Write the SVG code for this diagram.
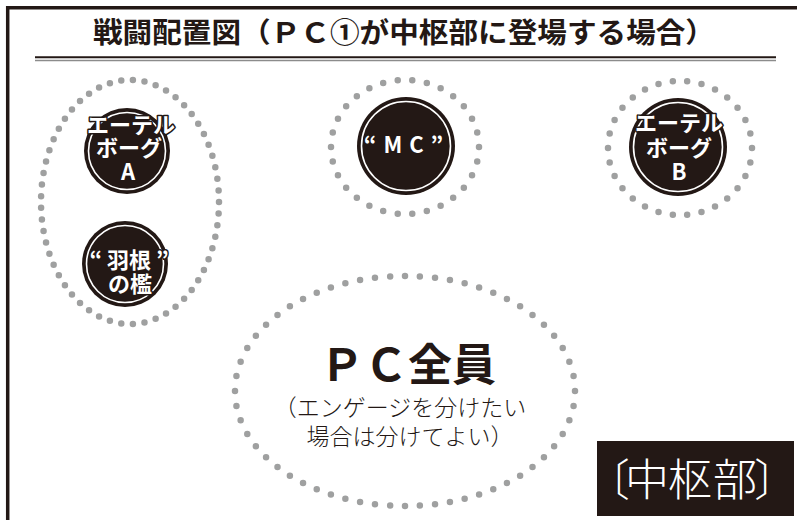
<svg xmlns="http://www.w3.org/2000/svg" width="797" height="520" viewBox="0 0 797 520">
<defs>
<style>
.frame{fill:none;stroke:#231815;stroke-width:3.5}
.dots{fill:none;stroke:#9fa0a0;stroke-width:6.5;stroke-linecap:round;stroke-dasharray:0 1}
.disc{fill:#231815}
.ring{fill:none;stroke:#fff;stroke-width:1.6}
.lbl{font-family:"Noto Sans CJK JP","Noto Sans",sans-serif;font-weight:bold;font-size:22px;fill:#fff;stroke:#231815;stroke-width:3;paint-order:stroke;stroke-linejoin:round;text-anchor:middle}
.title{font-family:"Noto Sans CJK JP",sans-serif;font-weight:bold;font-size:28px;fill:#231815}
.big{font-family:"Noto Sans CJK JP",sans-serif;font-weight:bold;font-size:44px;fill:#231815;text-anchor:middle}
.sub{font-family:"Noto Sans CJK JP",sans-serif;font-weight:300;font-size:23px;fill:#231815;text-anchor:middle}
.zone{font-family:"Noto Sans CJK JP",sans-serif;font-weight:300;font-size:44px;fill:#fff}
</style>
</defs>
<rect width="797" height="520" fill="#fff"/>
<path class="frame" d="M7.7 520V7.7H797"/>
<g id="title">
<text class="title" x="93" y="43" textLength="622" lengthAdjust="spacingAndGlyphs">戦闘配置図（ＰＣ①が中枢部に登場する場合）</text>
<line x1="35" y1="57.3" x2="776" y2="57.3" stroke="#231815" stroke-width="2"/>
<line x1="35" y1="60.6" x2="776" y2="60.6" stroke="#8c8c8c" stroke-width="1.5"/>
</g>
<g id="connectors"></g>
<g id="zone-left">
<ellipse class="dots" cx="130" cy="202" rx="89" ry="122" pathLength="57"/>
</g>
<g id="node-aetherborg-a">
<circle class="disc" cx="127" cy="151" r="43"/>
<circle class="ring" cx="127" cy="151" r="38.5"/>
<text class="lbl"><tspan x="131" y="133">エーテル</tspan><tspan x="129" y="156">ボーグ</tspan><tspan x="128" y="180">A</tspan></text>
</g>
<g id="node-hane">
<circle class="disc" cx="125" cy="264" r="43"/>
<circle class="ring" cx="125" cy="264" r="38.5"/>
<text class="lbl"><tspan x="129" y="268">“ 羽根 ”</tspan><tspan x="130" y="292">の檻</tspan></text>
</g>
<g id="node-mc">
<ellipse class="dots" cx="405" cy="147" rx="74" ry="67" pathLength="30"/>
<circle class="disc" cx="406" cy="146" r="49"/>
<circle class="ring" cx="406" cy="146" r="44.5"/>
<text class="lbl" x="404" y="153" style="letter-spacing:1px">“ M C ”</text>
</g>
<g id="node-aetherborg-b">
<ellipse class="dots" cx="680" cy="148" rx="72" ry="67" pathLength="30"/>
<circle class="disc" cx="678" cy="147" r="49"/>
<circle class="ring" cx="678" cy="147" r="44.5"/>
<text class="lbl"><tspan x="679" y="131">エーテル</tspan><tspan x="679" y="156">ボーグ</tspan><tspan x="679" y="180">B</tspan></text>
</g>
<g id="node-pc">
<ellipse class="dots" cx="405" cy="391" rx="170" ry="115" pathLength="60"/>
<text class="big" x="408" y="381">ＰＣ全員</text>
<text class="sub"><tspan x="400" y="416">（エンゲージを分けたい</tspan><tspan x="410" y="445">場合は分けてよい）</tspan></text>
</g>
<g id="label-center">
<rect x="597" y="441" width="197" height="75" fill="#231815"/>
<text class="zone" x="586 625 668 713 754" y="496">〔中枢部〕</text>
</g>
</svg>
